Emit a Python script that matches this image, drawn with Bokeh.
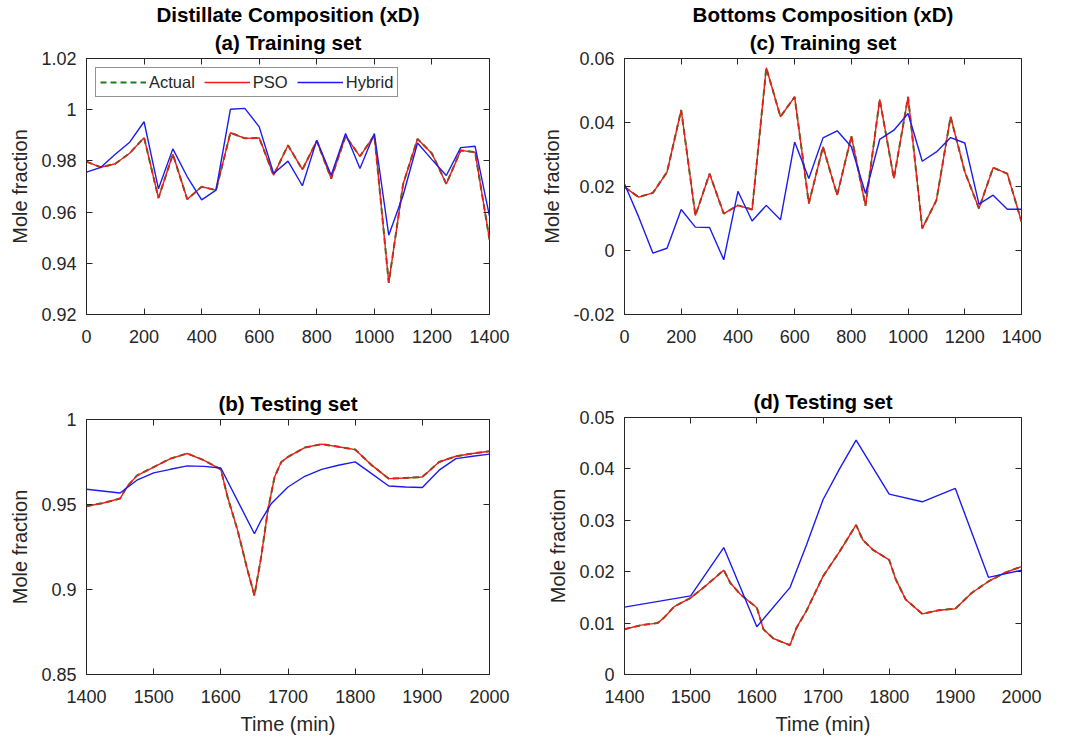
from bokeh.plotting import figure
from bokeh.models import Range1d, FixedTicker, LinearAxis, Title, Legend, LegendItem
from bokeh.layouts import row, column
from bokeh.embed import file_html
from bokeh.resources import INLINE

# ---------------- data ----------------
t_train = [0, 50, 100, 150, 200, 250, 300, 350, 400, 450, 500, 550, 600, 650, 700,
           750, 800, 850, 900, 950, 1000, 1050, 1100, 1150, 1200, 1250, 1300, 1350, 1400]

actual_a = [0.9797, 0.9775, 0.9789, 0.9830, 0.9891, 0.9655, 0.9826, 0.9650, 0.9699, 0.9686,
            0.9910, 0.9888, 0.9890, 0.9744, 0.9861, 0.9766, 0.9878, 0.9731, 0.9897, 0.9818,
            0.9900, 0.9324, 0.9710, 0.9886, 0.9829, 0.9710, 0.9841, 0.9834, 0.9493]
pso_a = [0.9797, 0.9775, 0.9789, 0.9830, 0.9891, 0.9655, 0.9826, 0.9650, 0.9699, 0.9686,
         0.9910, 0.9888, 0.9890, 0.9744, 0.9861, 0.9766, 0.9878, 0.9731, 0.9897, 0.9818,
         0.9900, 0.9324, 0.9710, 0.9886, 0.9829, 0.9710, 0.9841, 0.9834, 0.9493]
hybrid_a = [0.9756, 0.9775, 0.9826, 0.9873, 0.9953, 0.9691, 0.9847, 0.9738, 0.9648, 0.9686,
            1.0002, 1.0005, 0.9933, 0.9751, 0.9799, 0.9703, 0.9881, 0.9744, 0.9907, 0.9770,
            0.9907, 0.9510, 0.9666, 0.9870, 0.9805, 0.9743, 0.9852, 0.9857, 0.9584]

actual_c = [0.0198, 0.0167, 0.0180, 0.0245, 0.0439, 0.0109, 0.0240, 0.0115, 0.0141, 0.0128,
            0.0571, 0.0418, 0.0480, 0.0147, 0.0324, 0.0173, 0.0357, 0.0140, 0.0472, 0.0225,
            0.0480, 0.0069, 0.0157, 0.0418, 0.0246, 0.0131, 0.0259, 0.0240, 0.0090]
pso_c = [0.0198, 0.0167, 0.0180, 0.0245, 0.0439, 0.0109, 0.0240, 0.0115, 0.0141, 0.0128,
         0.0571, 0.0418, 0.0480, 0.0147, 0.0324, 0.0173, 0.0357, 0.0140, 0.0472, 0.0225,
         0.0480, 0.0069, 0.0157, 0.0418, 0.0246, 0.0131, 0.0259, 0.0240, 0.0090]
hybrid_c = [0.0208, 0.0105, -0.0008, 0.0007, 0.0128, 0.0073, 0.0072, -0.0029, 0.0185, 0.0092,
            0.0141, 0.0096, 0.0339, 0.0225, 0.0352, 0.0374, 0.0324, 0.0178, 0.0347, 0.0376,
            0.0428, 0.0279, 0.0308, 0.0353, 0.0336, 0.0145, 0.0173, 0.0129, 0.0129]

t_test_b = [1400, 1425, 1450, 1460, 1475, 1500, 1525, 1550, 1575, 1600, 1610, 1625, 1640, 1650,
            1660, 1670, 1680, 1690, 1700, 1725, 1750, 1775, 1800, 1825, 1850, 1875, 1900,
            1925, 1950, 1975, 2000]
actual_b = [0.9490, 0.9509, 0.9535, 0.9603, 0.9670, 0.9720, 0.9770, 0.9800, 0.9760, 0.9707,
            0.9544, 0.9348, 0.9110, 0.8965, 0.9190, 0.9466, 0.9662, 0.9750, 0.9780, 0.9835,
            0.9855, 0.9840, 0.9823, 0.9730, 0.9652, 0.9656, 0.9662, 0.9750, 0.9784, 0.9800, 0.9813]
pso_b = [0.9490, 0.9509, 0.9535, 0.9603, 0.9670, 0.9720, 0.9770, 0.9800, 0.9760, 0.9707,
         0.9544, 0.9348, 0.9110, 0.8965, 0.9190, 0.9466, 0.9662, 0.9750, 0.9780, 0.9835,
         0.9855, 0.9840, 0.9823, 0.9730, 0.9652, 0.9656, 0.9662, 0.9750, 0.9784, 0.9800, 0.9813]
t_hyb_b = [1400, 1450, 1475, 1500, 1525, 1550, 1575, 1600, 1650, 1660, 1675, 1700, 1725, 1750,
           1775, 1800, 1825, 1850, 1875, 1900, 1925, 1950, 1975, 2000]
hybrid_b = [0.9590, 0.9568, 0.9643, 0.9686, 0.9707, 0.9727, 0.9724, 0.9715, 0.9328, 0.9407,
            0.9505, 0.9603, 0.9666, 0.9707, 0.9731, 0.9751, 0.9680, 0.9609, 0.9603, 0.9600,
            0.9702, 0.9770, 0.9784, 0.9796]

t_test_d = [1400, 1425, 1450, 1460, 1475, 1500, 1525, 1550, 1560, 1575, 1600, 1610, 1625, 1650,
            1660, 1675, 1700, 1725, 1750, 1760, 1775, 1800, 1810, 1825, 1850, 1875, 1900,
            1925, 1950, 1975, 2000]
actual_d = [0.0088, 0.0096, 0.0100, 0.0111, 0.0132, 0.0149, 0.0175, 0.0203, 0.0178, 0.0156,
            0.0130, 0.0088, 0.0070, 0.0057, 0.0091, 0.0124, 0.0191, 0.0239, 0.0291, 0.0262,
            0.0243, 0.0223, 0.0185, 0.0146, 0.0118, 0.0125, 0.0128, 0.0159, 0.0181, 0.0198, 0.0210]
pso_d = [0.0088, 0.0096, 0.0100, 0.0111, 0.0132, 0.0149, 0.0175, 0.0203, 0.0178, 0.0156,
         0.0130, 0.0088, 0.0070, 0.0057, 0.0091, 0.0124, 0.0191, 0.0239, 0.0291, 0.0262,
         0.0243, 0.0223, 0.0185, 0.0146, 0.0118, 0.0125, 0.0128, 0.0159, 0.0181, 0.0198, 0.0210]
t_hyb_d = [1400, 1500, 1550, 1600, 1650, 1675, 1700, 1725, 1750, 1800, 1850, 1900, 1950, 2000]
hybrid_d = [0.0131, 0.0153, 0.0247, 0.0093, 0.0169, 0.0252, 0.0340, 0.0400, 0.0456, 0.0351,
            0.0336, 0.0362, 0.0189, 0.0203]

x_ticks_train = [0, 200, 400, 600, 800, 1000, 1200, 1400]
x_ticks_test = [1400, 1500, 1600, 1700, 1800, 1900, 2000]
y_ticks_a = [0.92, 0.94, 0.96, 0.98, 1.0, 1.02]
y_labels_a = ["0.92", "0.94", "0.96", "0.98", "1", "1.02"]
y_ticks_b = [0.85, 0.9, 0.95, 1.0]
y_labels_b = ["0.85", "0.9", "0.95", "1"]
y_ticks_c = [-0.02, 0.0, 0.02, 0.04, 0.06]
y_labels_c = ["-0.02", "0", "0.02", "0.04", "0.06"]
y_ticks_d = [0.0, 0.01, 0.02, 0.03, 0.04, 0.05]
y_labels_d = ["0", "0.01", "0.02", "0.03", "0.04", "0.05"]

# ---------------- style ----------------
FONT = "Liberation Sans"
AX = "#262626"
C_ACT = "#1b7d1b"
C_PSO = "#ee1c1c"
C_HYB = "#1c1cee"


def make_panel(titles, xr, yr, xt, yt, ylab, fw, fh, bl, br, bt, bb, xlabel=None):
    p = figure(frame_width=fw, frame_height=fh, x_range=Range1d(*xr), y_range=Range1d(*yr),
               output_backend="svg", toolbar_location=None, title=None,
               min_border_left=bl, min_border_right=br, min_border_top=bt, min_border_bottom=bb)
    p.grid.visible = False
    p.outline_line_color = AX
    p.outline_line_width = 1
    p.background_fill_color = "white"
    p.border_fill_color = "white"

    xa = p.xaxis[0]
    ya = p.yaxis[0]
    xa.ticker = FixedTicker(ticks=xt)
    ya.ticker = FixedTicker(ticks=yt)
    ya.major_label_overrides = {v: s for v, s in zip(yt, ylab)}
    for ax in (xa, ya):
        ax.major_tick_in = 6
        ax.major_tick_out = 0
        ax.minor_tick_line_color = None
        ax.axis_line_color = AX
        ax.major_tick_line_color = AX
        ax.major_label_text_font = FONT
        ax.major_label_text_font_size = "18px"
        ax.major_label_text_color = AX
        ax.axis_label_text_font = FONT
        ax.axis_label_text_font_size = "20px"
        ax.axis_label_text_font_style = "normal"
        ax.axis_label_text_color = AX
    xa.major_label_standoff = 15
    ya.major_label_standoff = 10
    ya.axis_label = "Mole fraction"
    ya.axis_label_standoff = 7
    if xlabel:
        xa.axis_label = xlabel
        xa.axis_label_standoff = 7

    # mirrored ticks (box style), labels not painted
    ra = LinearAxis(ticker=FixedTicker(ticks=yt), major_label_text_font_size="1px",
                    major_label_text_color=None,
                    major_label_standoff=0, major_tick_in=6, major_tick_out=0,
                    minor_tick_line_color=None, axis_line_color=None, major_tick_line_color=AX)
    p.add_layout(ra, "right")
    ta = LinearAxis(ticker=FixedTicker(ticks=xt), major_label_text_font_size="1px",
                    major_label_text_color=None,
                    major_label_standoff=0, major_tick_in=6, major_tick_out=0,
                    minor_tick_line_color=None, axis_line_color=None, major_tick_line_color=AX)
    p.add_layout(ta, "above")

    for i, txt in enumerate(reversed(titles)):
        p.add_layout(Title(text=txt, align="center", text_font=FONT, text_font_size="20.6px",
                           text_font_style="bold", text_color="black",
                           standoff=10 if i == 0 else -5), "above")
    return p


def add_lines(p, tx, act, pso, th, hyb):
    r1 = p.line(tx, act, line_color=C_ACT, line_width=2, line_dash="6 4")
    r2 = p.line(tx, pso, line_color=C_PSO, line_width=1.4)
    r3 = p.line(th, hyb, line_color=C_HYB, line_width=1.4)
    return r1, r2, r3


pa = make_panel(["Distillate Composition (xD)", "(a) Training set"], (0, 1400), (0.92, 1.02),
                x_ticks_train, y_ticks_a, y_labels_a, 403, 256, 86, 40, 58, 50)
ra1, ra2, ra3 = add_lines(pa, t_train, actual_a, pso_a, t_train, hybrid_a)
leg = Legend(items=[LegendItem(label="Actual", renderers=[ra1]),
                    LegendItem(label="PSO", renderers=[ra2]),
                    LegendItem(label="Hybrid", renderers=[ra3])],
             orientation="horizontal", location="top_left", margin=9, padding=4,
             spacing=9, glyph_width=46, glyph_height=20, label_standoff=3,
             label_text_font=FONT, label_text_font_size="16.5px", label_text_color=AX,
             border_line_color=AX, border_line_width=1, background_fill_alpha=1.0)
pa.add_layout(leg)

pb = make_panel(["(b) Testing set"], (1400, 2000), (0.85, 1.0),
                x_ticks_test, y_ticks_b, y_labels_b, 403, 255, 86, 40, 55, 62, xlabel="Time (min)")
add_lines(pb, t_test_b, actual_b, pso_b, t_hyb_b, hybrid_b)

pc = make_panel(["Bottoms Composition (xD)", "(c) Training set"], (0, 1400), (-0.02, 0.06),
                x_ticks_train, y_ticks_c, y_labels_c, 397, 256, 95, 30, 58, 50)
add_lines(pc, t_train, actual_c, pso_c, t_train, hybrid_c)

pd_ = make_panel(["(d) Testing set"], (1400, 2000), (0.0, 0.05),
                 x_ticks_test, y_ticks_d, y_labels_d, 397, 257, 95, 30, 53, 61, xlabel="Time (min)")
add_lines(pd_, t_test_d, actual_d, pso_d, t_hyb_d, hybrid_d)

layout = row(column(pa, pb), column(pc, pd_))
open("out.html", "w").write(file_html(layout, INLINE))
